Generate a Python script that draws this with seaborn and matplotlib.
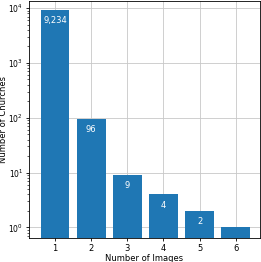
import matplotlib
matplotlib.use("Agg")
import matplotlib.pyplot as plt
import seaborn as sns
import pandas as pd

# values
num_images = [1, 2, 3, 4, 5, 6]
num_churches = [9234, 96, 9, 4, 2, 1]
bar_labels = ["9,234", "96", "9", "4", "2", ""]

df = pd.DataFrame({"images": num_images, "churches": num_churches})

plt.rcParams['font.size'] = 6
plt.rcParams['axes.linewidth'] = 0.6
plt.rcParams['xtick.major.size'] = 2.2
plt.rcParams['ytick.major.size'] = 2.2
plt.rcParams['ytick.minor.size'] = 1.3
plt.rcParams['xtick.major.width'] = 0.6
plt.rcParams['ytick.major.width'] = 0.6
plt.rcParams['ytick.minor.width'] = 0.45
plt.rcParams['xtick.major.pad'] = 2.0
plt.rcParams['ytick.major.pad'] = 2.0

fig = plt.figure(figsize=(2.61, 2.62), dpi=100)
ax = fig.add_axes([29 / 261, 1 - 238 / 262, 231 / 261, 237 / 262])

sns.barplot(data=df, x="images", y="churches", color="#1f77b4",
            saturation=1, width=0.8, ax=ax)
ax.set_yscale("log")

for patch, lab in zip(ax.patches, bar_labels):
    if not lab:
        continue
    ax.annotate(lab, (patch.get_x() + patch.get_width() / 2, patch.get_height()),
                xytext=(0, -4.5), textcoords="offset points",
                ha="center", va="top", color="white", fontsize=6)

ax.set_xlim(-0.72, 5.67)
ax.set_ylim(0.64, 13500)
ax.grid(True, color="#c8c8c8", linewidth=0.6)
ax.set_axisbelow(True)
ax.tick_params(axis="x", labelsize=6)
ax.tick_params(axis="y", labelsize=5.5)
ax.set_xlabel("Number of Images", fontsize=6, labelpad=0.8)
ax.set_ylabel("Number of Churches", fontsize=6, labelpad=0.3)

fig.savefig("out.png", dpi=100)
